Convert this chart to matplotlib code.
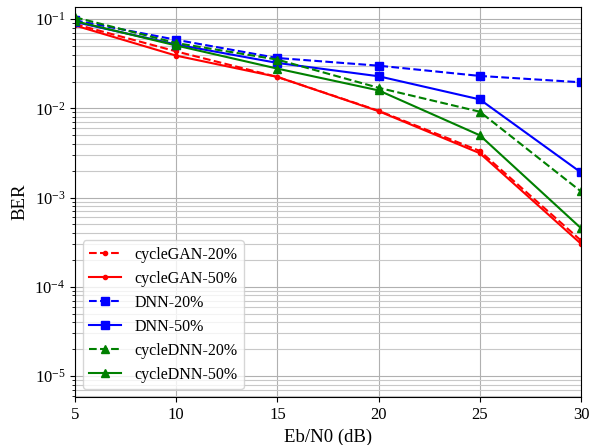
import matplotlib
matplotlib.use("Agg")
import matplotlib.pyplot as plt
from matplotlib.ticker import LogLocator

plt.rcParams['font.family'] = ['Liberation Serif', 'DejaVu Serif']
plt.rcParams['mathtext.fontset'] = 'stix'

snr = [5, 10, 15, 20, 25, 30]
cyclegan_20 = [0.088, 0.0435, 0.0225, 0.0094, 0.00333, 0.00033]
cyclegan_50 = [0.085, 0.039, 0.0225, 0.0093, 0.00314, 0.000303]
dnn_20 = [0.097, 0.0587, 0.0367, 0.0301, 0.0231, 0.0196]
dnn_50 = [0.093, 0.052, 0.0323, 0.0229, 0.0126, 0.00191]
cycdnn_20 = [0.105, 0.054, 0.0352, 0.0170, 0.00917, 0.00117]
cycdnn_50 = [0.095, 0.0507, 0.0279, 0.0159, 0.00499, 0.000453]
labels = ['cycleGAN-20%', 'cycleGAN-50%', 'DNN-20%', 'DNN-50%',
          'cycleDNN-20%', 'cycleDNN-50%']

fig = plt.figure(figsize=(5.93, 4.45), dpi=100)
ax = fig.add_axes([75/593, 1-397/445, 506/593, 390.3/445])

ax.semilogy(snr, cyclegan_20, 'r--', marker='.', ms=6, lw=1.5, label=labels[0])
ax.semilogy(snr, cyclegan_50, 'r-', marker='.', ms=6, lw=1.5, label=labels[1])
ax.semilogy(snr, dnn_20, 'b--', marker='s', ms=5.5, lw=1.5, label=labels[2])
ax.semilogy(snr, dnn_50, 'b-', marker='s', ms=5.5, lw=1.5, label=labels[3])
ax.semilogy(snr, cycdnn_20, '--', color='green', marker='^', ms=5.5, lw=1.5, label=labels[4])
ax.semilogy(snr, cycdnn_50, '-', color='green', marker='^', ms=5.5, lw=1.5, label=labels[5])

ax.set_xlim(5, 30)
ax.set_ylim(5.8e-6, 0.138)
ax.set_xticks([5, 10, 15, 20, 25, 30])
ax.yaxis.set_minor_locator(LogLocator(base=10, subs=range(2, 10), numticks=20))
ax.grid(True, which='major', color='#b0b0b0', lw=0.8)
ax.grid(True, which='minor', axis='y', color='#c8c8c8', lw=0.8)
ax.tick_params(labelsize=12)
ax.set_xlabel('Eb/N0 (dB)', fontsize=13.5)
ax.set_ylabel('BER', fontsize=13.5)
ax.legend(loc='lower left', fontsize=11.5)

fig.savefig('out.png', dpi=100)
